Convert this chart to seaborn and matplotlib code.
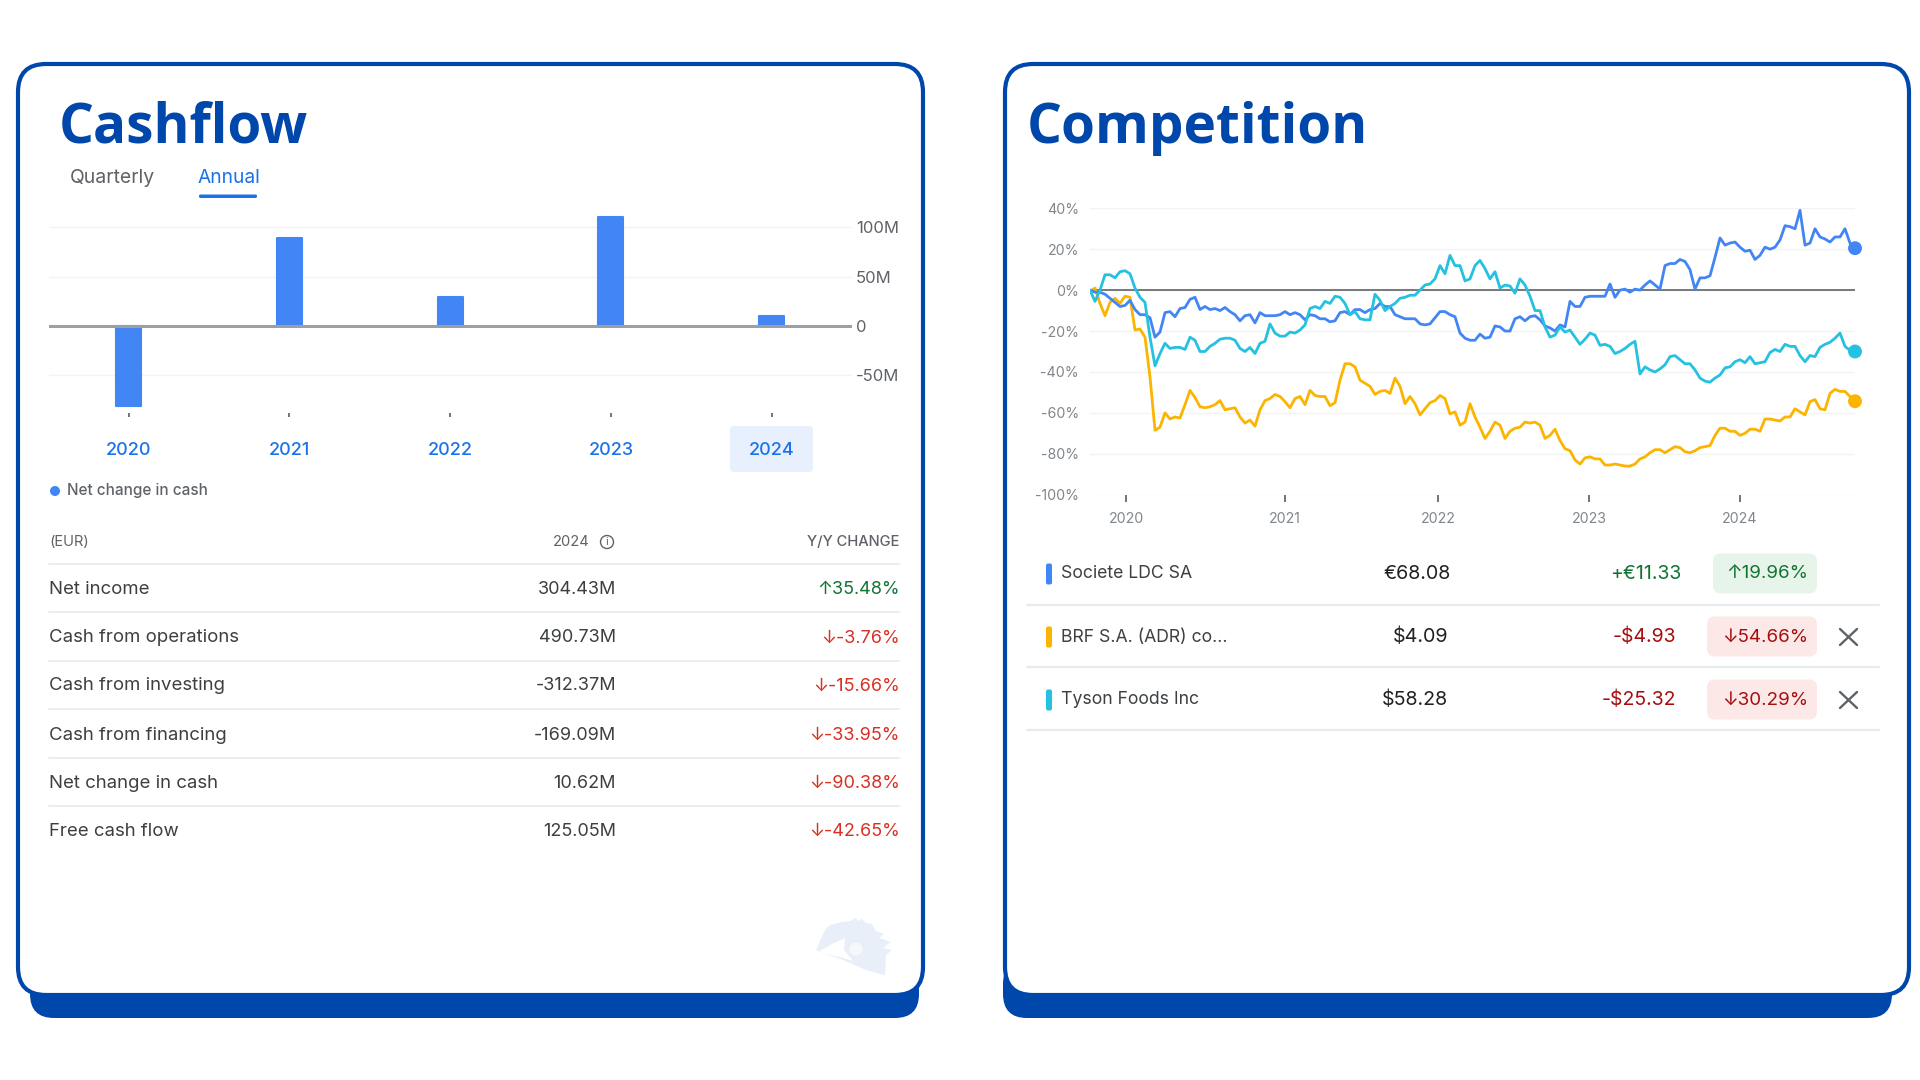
import matplotlib
matplotlib.use("Agg")
import matplotlib.pyplot as plt
from matplotlib.patches import FancyBboxPatch, Rectangle, Circle
import numpy as np
import pandas as pd
import seaborn as sns

# ---------------- data ----------------
years = ["2020", "2021", "2022", "2023", "2024"]
net_change = [-80.7, 89.5, 29.0, 110.8, 10.62]
cash_ticks = [100, 50, 0, -50]
cash_tick_labels = ["100M", "50M", "0", "-50M"]

row_labels = ["Net income", "Cash from operations", "Cash from investing",
              "Cash from financing", "Net change in cash", "Free cash flow"]
row_values = ["304.43M", "490.73M", "-312.37M", "-169.09M", "10.62M", "125.05M"]
row_changes = ["↑35.48%", "↓-3.76%", "↓-15.66%", "↓-33.95%", "↓-90.38%", "↓-42.65%"]

comp_names = ["Societe LDC SA", "BRF S.A. (ADR) co...", "Tyson Foods Inc"]
comp_prices = ["€68.08", "$4.09", "$58.28"]
comp_deltas = ["+€11.33", "-$4.93", "-$25.32"]
comp_pcts = ["↑19.96%", "↓54.66%", "↓30.29%"]

pct_ticks = [40, 20, 0, -20, -40, -60, -80, -100]
year_ticks = [7.2, 39.0, 69.6, 99.8, 130.0]   # position of each year on the sample axis

societe = [0, -1, -1, -2, -4, -6, -8, -7.5, -5, -9.5, -12, -12, -13.5, -23, -20.5, -11, -10.5, -13, -9, -8.5,
           -4.5, -3.5, -9.5, -8, -9.5, -9, -10, -8.5, -10.5, -12, -15, -12.5, -12, -16, -11, -12.5, -12.5, -12.5, -12, -10.5,
           -12, -11, -12, -14.5, -12, -12.5, -14, -14, -15.5, -15, -11, -10.5,
           -12, -9.5, -9.5, -11, -9.5, -9, -6.5, -8, -8, -12, -13, -14, -14, -14, -16.5, -17, -16.5, -13.5,
           -10.5, -10.5, -12, -13, -21, -23.5, -24.5, -24.5, -21.5, -23.5, -23, -17.5, -18, -20, -20, -14, -13, -15, -13, -12.5,
           -14.5, -17.5, -18.5, -20, -17, -18, -5.5, -8, -8, -3.5, -3, -3, -3, -3,
           3, -3.5, 0, 0.5, -1, 0.5, 0, 2.5, 4.5, 2.5, 0.5, 12, 13, 13, 15, 14, 10, 0.5, 6, 6, 7, 16,
           25.5, 22, 23, 23.5, 21, 19, 19.5, 15, 17, 21, 20, 21, 24.5, 31.5, 31, 30, 39, 22, 23, 30, 26, 25, 23.5, 26, 26, 30, 23, 20.5]

tyson = [0, -5.5, 0, 7.5, 7.5, 6, 9, 9.5, 8, 1, -3.5, -6, -23, -37, -31, -26, -28.5, -28, -28, -29,
         -23, -24.5, -30, -30, -27.5, -26, -24, -23.5, -23.5, -24.5, -28.5, -30, -28, -31, -26, -25, -16.5, -21, -22.5, -22.5,
         -20.5, -21, -19.5, -17, -9, -8, -9, -5.5, -6.5, -3, -3.5, -6.5,
         -12, -10.5, -14, -14.5, -14.5, -2, -5, -10, -8, -6.5, -4, -3.5, -2.5, -2.5, 0, 2.5, 3, 5.5,
         12, 8, 17, 12, 12, 4.5, 5.5, 12, 14.5, 10.5, 5.5, 9, 1, 2.5, 2, -1.5, 5.5, 2.5, -3, -10,
         -10, -18, -23, -22, -18, -20.5, -19.5, -23, -26.5, -24, -21, -22, -27, -26.5,
         -27.5, -31, -30, -28.5, -26.5, -25, -41, -37.5, -39, -40, -38.5, -36.5, -32.5, -32, -34, -36, -36, -39, -43, -44.5, -45, -43,
         -41.5, -38, -37.5, -35, -34, -35.5, -32.5, -36, -35.5, -35, -30.5, -29, -30, -26.5, -27.5, -27.5, -32, -35, -32, -32.5, -28, -26.5, -25.5, -23.5, -21, -27.5, -29.5, -30]

brf = [-0.5, 1, -6.5, -12.5, -6, -4, -6.5, -3, -3.5, -19.5, -19, -23, -42.5, -68.5, -67, -60, -63, -62, -62.5, -56,
       -49, -52.5, -57, -57.5, -57, -56, -54, -58.5, -58, -57.5, -62, -65, -63.5, -66.5, -58.5, -54, -53, -51, -52, -54.5,
       -57.5, -53, -52, -56, -49, -51.5, -52, -52, -56.5, -55, -44, -36,
       -36, -37.5, -44, -45.5, -47, -51, -49.5, -49, -50.5, -43, -47, -55.5, -52, -55.5, -61, -58, -55, -54,
       -51.5, -53, -60.5, -59.5, -66, -64.5, -55.5, -62, -67, -72.5, -69, -64.5, -66, -72.5, -69, -67.5, -67, -64.5, -65, -64.5,
       -66, -72.5, -71, -68, -73.5, -77.5, -78.5, -83, -85, -82, -81.5, -82.5, -82.5, -85.5,
       -85.5, -85, -85.5, -86, -86, -85, -82.5, -81.5, -79.5, -78, -78, -79.5, -78, -76.5, -77, -79, -79.5, -78.5, -77, -76.5, -76, -71,
       -67.5, -67.5, -69, -69, -71, -70, -68, -68, -69, -63, -63, -63.5, -64, -62, -62, -58, -59.5, -61, -54.5, -53.5, -58, -58.5, -50.5, -48.5, -49.5, -49.5, -52, -54.3]

# ---------------- style ----------------
BLUE_TITLE = "#0047ab"
C_BLUE, C_ORANGE, C_CYAN = "#4285f4", "#fbb400", "#24c1e0"
GRID = "#f1f3f4"
SEP = "#e8eaed"
LINK = "#1a73e8"
GREY = "#5f6368"
DARK = "#202124"
DARK2 = "#3c4043"
GREEN = "#137333"
RED = "#d93025"
DKRED = "#a50e0e"

sns.set_theme(style="white")
BODY = ["Inter", "DejaVu Sans"]
plt.rcParams["font.family"] = BODY

W, H = 1920, 1080
fig = plt.figure(figsize=(W / 100, H / 100), dpi=100, facecolor="white")

def px_axes(x0, y0, x1, y1, **kw):
    return fig.add_axes([x0 / W, 1 - y1 / H, (x1 - x0) / W, (y1 - y0) / H], **kw)

bg = px_axes(0, 0, W, H, zorder=0)
bg.set_xlim(0, W); bg.set_ylim(H, 0); bg.axis("off")

def rbox(x0, y0, x1, y1, r, fc, ec="none", lw=0, z=1):
    p = FancyBboxPatch((x0 + r, y0 + r), x1 - x0 - 2 * r, y1 - y0 - 2 * r,
                       boxstyle=f"round,pad={r},rounding_size={r}", fc=fc, ec=ec, lw=lw, zorder=z)
    bg.add_patch(p)

def txt(x, y, s, size=13, color=DARK, ha="left", weight="normal", family=None, z=5):
    bg.text(x, y, s, fontsize=size, color=color, ha=ha, va="center", weight=weight,
            family=family or BODY, zorder=z)

# cards with their shadow bars
for (x0, x1, sx0, sx1) in [(18, 923, 30, 919), (1005, 1909, 1003, 1892)]:
    rbox(sx0, 960, sx1, 1018, 24, BLUE_TITLE, z=1)
    rbox(x0, 64, x1, 995, 28, "white", ec=BLUE_TITLE, lw=3, z=2)

TITLE = ["Open Sans", "DejaVu Sans"]
txt(59, 128, "Cashflow", size=39.5, color=BLUE_TITLE, weight="bold", family=TITLE)
txt(1027, 128, "Competition", size=39.5, color=BLUE_TITLE, weight="bold", family=TITLE)

# tabs
txt(70, 178, "Quarterly", size=14, color=GREY)
txt(198, 178, "Annual", size=13.8, color=LINK)
rbox(199, 194.5, 257, 198, 1.5, LINK, z=5)

# ---------------- bar chart ----------------
ax = px_axes(49, 205, 852, 413, zorder=3)
ax.patch.set_alpha(0)
bars = pd.DataFrame({"year": years, "net_change": net_change})
sns.barplot(data=bars, x="year", y="net_change", order=years, color=C_BLUE, saturation=1,
            width=0.155, ax=ax, zorder=3)
for b in ax.patches:
    b.set_edgecolor(C_BLUE); b.set_linewidth(1.5); b.set_joinstyle("round")
ax.set_xlim(-0.495, 4.5)
ax.set_ylim(-88.2, 122.7)
ax.set_xlabel(""); ax.set_ylabel("")
ax.set_yticks(cash_ticks, cash_tick_labels)
ax.yaxis.tick_right()
ax.tick_params(axis="y", length=0, pad=3, labelsize=12, labelcolor=GREY)
ax.tick_params(axis="x", length=3, width=1.4, color="#70757a", pad=18, labelsize=13, labelcolor=LINK, bottom=True)
ax.grid(axis="y", color=GRID, lw=1, zorder=0)
ax.axhline(0, color="#9aa0a6", lw=2.2, zorder=4)
sns.despine(ax=ax, left=True, bottom=True, right=True, top=True)
rbox(730, 426, 813, 472, 4, "#e8f0fe", z=3)
for t in ax.get_xticklabels():
    t.set_zorder(6)
    t.set_fontweight("medium")

# legend
bg.add_patch(Circle((55, 491), 5, fc=C_BLUE, ec="none", zorder=5))
txt(67, 491, "Net change in cash", size=11, color=GREY, weight="medium")

# ---------------- cash table ----------------
txt(49, 542, "(EUR)", size=10.6, color=GREY)
txt(590, 542, "2024", size=10.6, color=GREY, ha="right")
bg.add_patch(Circle((607, 542), 6.5, fc="none", ec=GREY, lw=1, zorder=5))
txt(607, 542, "i", size=8, color=GREY, ha="center")
txt(899, 542, "Y/Y CHANGE", size=10.6, color=GREY, ha="right", weight="medium")
for y in [564, 612, 661, 709, 758, 806]:
    bg.plot([49, 899], [y, y], color=SEP, lw=1.2, zorder=3)
for y, lab, val, chg in zip([590, 638, 686, 735, 783, 831], row_labels, row_values, row_changes):
    txt(49, y, lab, size=13.4, color=DARK2)
    txt(616, y, val, size=13, color=DARK2, ha="right")
    txt(900, y, chg, size=13, color=GREEN if chg.startswith("↑") else RED, ha="right")

# watermark: a pale eye
WM = "#e9eff8"
lid_x = [816, 825, 830, 842, 850, 856, 858, 862, 866, 872, 876, 884, 879, 891, 883, 892, 886, 885, 880, 866, 843, 826]
lid_y = [950, 930, 925, 922, 921, 918, 921, 919, 923, 924, 931, 934, 938, 942, 948, 950, 955, 975, 974, 970, 960, 954]
bg.add_patch(plt.Polygon(list(zip(lid_x, lid_y)), fc=WM, ec="none", zorder=3))
sclera_x = [820, 832, 845, 844, 853, 840, 826]
sclera_y = [951, 944, 938, 950, 961, 957, 954]
bg.add_patch(plt.Polygon(list(zip(sclera_x, sclera_y)), fc="white", ec="none", zorder=4))
bg.add_patch(Circle((856, 949), 6.5, fc="#f6f8fc", ec="none", zorder=4))

# ---------------- competition chart ----------------
lc = px_axes(1090, 208.3, 1855, 494.7, zorder=3)
lc.patch.set_alpha(0)
n = len(societe)
sample = list(range(n))
frame = pd.concat([
    pd.DataFrame({"sample": sample, "pct": brf, "name": "BRF"}),
    pd.DataFrame({"sample": sample, "pct": societe, "name": "Societe"}),
    pd.DataFrame({"sample": sample, "pct": tyson, "name": "Tyson"}),
])
palette = {"Societe": C_BLUE, "BRF": C_ORANGE, "Tyson": C_CYAN}
lc.axhline(0, color=GREY, lw=1.2, zorder=1.5)
sns.lineplot(data=frame, x="sample", y="pct", hue="name", palette=palette, lw=2, legend=False,
             errorbar=None, ax=lc, zorder=3)
last = frame[frame["sample"] == n - 1]
sns.scatterplot(data=last, x="sample", y="pct", hue="name", palette=palette, s=100, linewidth=0,
                legend=False, ax=lc, zorder=4, clip_on=False)
lc.set_xlim(0, n - 1)
lc.set_ylim(-100, 40)
lc.set_xlabel(""); lc.set_ylabel("")
lc.set_yticks(pct_ticks, [f"{v}%" for v in pct_ticks])
lc.set_xticks(year_ticks, years)
lc.tick_params(axis="y", length=0, pad=8, labelsize=10.2, labelcolor="#80868b")
lc.tick_params(axis="x", length=5, width=1.4, color="#70757a", pad=7.5, labelsize=10.2, labelcolor="#80868b", bottom=True)
lc.grid(axis="y", color=GRID, lw=1, zorder=0)
sns.despine(ax=lc, left=True, bottom=True, right=True, top=True)

# ---------------- competition table ----------------
row_y = [574, 637, 700]
bar_cols = [C_BLUE, C_ORANGE, C_CYAN]
price_right = [1451, 1448, 1448]
delta_right = [1681, 1676, 1676]
pill_left = [1713, 1707, 1707]
for i in range(3):
    y = row_y[i]
    up = comp_pcts[i].startswith("↑")
    rbox(1046, y - 10.5, 1052, y + 10.5, 2, bar_cols[i], z=5)
    txt(1061, y, comp_names[i], size=12.7, color=DARK2)
    txt(price_right[i], y, comp_prices[i], size=14.2, color=DARK, ha="right")
    txt(delta_right[i], y, comp_deltas[i], size=14, color=GREEN if up else DKRED, ha="right")
    rbox(pill_left[i], y - 20.5, 1817, y + 19.5, 8, "#e6f4ea" if up else "#fce8e6", z=3)
    txt(1808, y, comp_pcts[i], size=13.5, color=GREEN if up else DKRED, ha="right")
    if i > 0:
        bg.plot([1840, 1857], [y - 8, y + 8], color=GREY, lw=1.7, zorder=5)
        bg.plot([1840, 1857], [y + 8, y - 8], color=GREY, lw=1.7, zorder=5)
for y in [605, 667, 730]:
    bg.plot([1027, 1879], [y, y], color=SEP, lw=1.6, zorder=3)

fig.savefig("out.png", dpi=100, facecolor="white")
